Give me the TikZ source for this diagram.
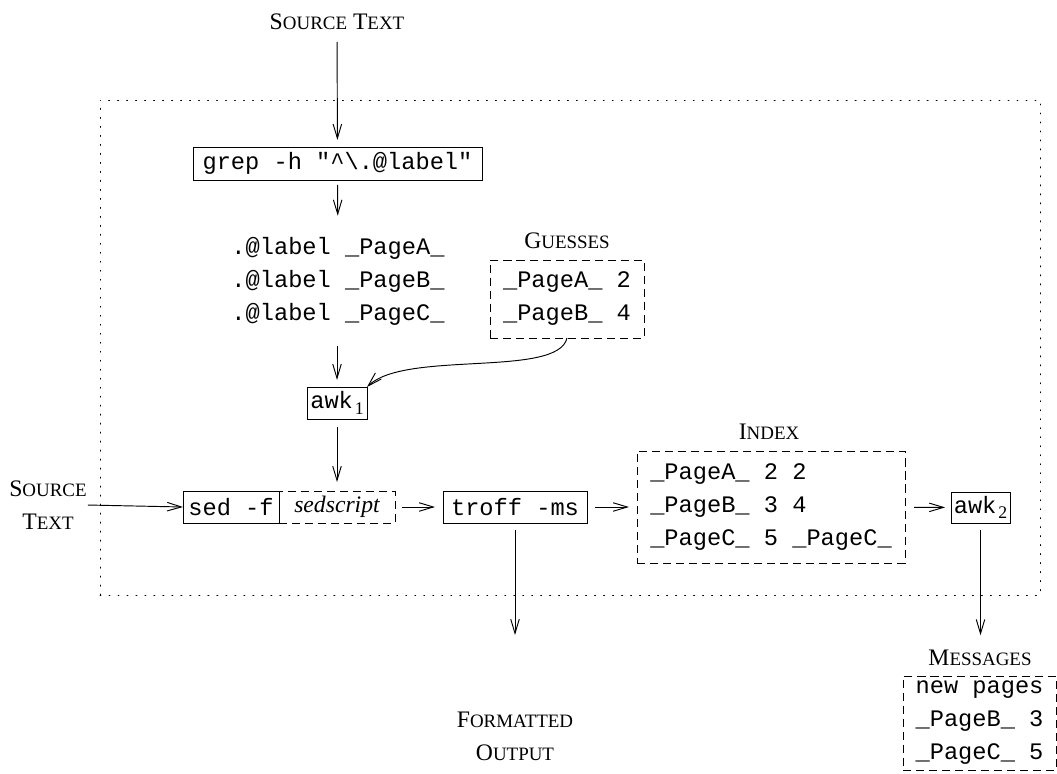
\documentclass[tikz,border=0pt]{standalone}
\usepackage{fontspec}
\setmainfont{Liberation Serif}
\setmonofont{Liberation Mono}
\usetikzlibrary{arrows.meta}
% small letters of the hand-made small caps
\newcommand\smc[1]{{\fontsize{8}{9}\selectfont #1}}
% awk with a numbered subscript
\newcommand\awksub[1]{awk\kern0.8pt\raisebox{-2.2pt}{\rmfamily\fontsize{7.5}{8}\selectfont #1}}
\begin{document}
\begin{tikzpicture}[
  x=0.4225pt, y=-0.4225pt,
  line width=0.4pt,
  every node/.style={inner sep=0pt, outer sep=0pt},
  mono/.style={font=\ttfamily\fontsize{10}{13.94}\selectfont},
  lbl/.style={font=\rmfamily\fontsize{10}{13.94}\selectfont, align=center},
  solidbox/.style 2 args={draw, minimum width=#1*0.4225pt, minimum height=#2*0.4225pt},
  dashbox/.style 2 args={draw, dash pattern=on 3.4pt off 2.1pt,
    minimum width=#1*0.4225pt, minimum height=#2*0.4225pt},
  arr/.style={-{Straight Barb[length=6pt,width=3.6pt]}},
]
\useasboundingbox (0,0) rectangle (1057,773);

% dotted frame round the pipeline
\node[draw, dash pattern=on 0.4pt off 3.4pt, line cap=round,
      minimum width=940*0.4225pt, minimum height=495*0.4225pt] (frame) at (570,347.5) {};

% labels
\node[lbl] (srcTop) at (337,22) {S\smc{OURCE} T\smc{EXT}};
\node[lbl] (guessLbl) at (567,241) {G\smc{UESSES}};
\node[lbl] (srcLeft) at (48,505) {S\smc{OURCE}\\T\smc{EXT}};
\node[lbl] (idxLbl) at (769,432) {I\smc{NDEX}};
\node[lbl] (msgLbl) at (980,658) {M\smc{ESSAGES}};
\node[lbl] (fmt) at (515,736) {F\smc{ORMATTED}\\O\smc{UTPUT}};

% commands and data
\node[mono, solidbox={289}{33}] (grep) at (337.5,163.5)
  {grep -h "\textasciicircum\textbackslash.@label"};
\node[mono, align=center] (labels) at (338,281)
  {.@label \_PageA\_\\.@label \_PageB\_\\.@label \_PageC\_};
\node[mono, dashbox={154}{78}, align=left] (guess) at (567,299)
  {\_PageA\_ 2\\\_PageB\_ 4};
\node[mono, solidbox={60}{32}] (awk1) at (337,403) {\awksub{1}};
\node[mono, dashbox={116}{32}] (script) at (337,507) {\rmfamily\itshape sedscript};
\node[mono, solidbox={96}{32}] (sed) at (231,507) {sed -f};
\node[mono, solidbox={144}{32}] (troff) at (515,507) {troff -ms};
\node[mono, dashbox={268}{112}, align=left] (index) at (771,507)
  {\_PageA\_ 2 2\\\_PageB\_ 3 4\\\_PageC\_ 5 \_PageC\_};
\node[mono, solidbox={59}{31}] (awk2) at (980.5,507.5) {\awksub{2}};
\node[mono, dashbox={153}{94}, align=left] (msg) at (979.5,723)
  {new pages\\\_PageB\_ 3\\\_PageC\_ 5};
\coordinate (outEnd) at (515,635);

% connectors
\draw[arr, shorten <=5pt, shorten >=3pt] (srcTop) -- (grep);
\draw[arr, shorten <=2.1pt, shorten >=9pt] (grep) -- (labels);
\draw[arr, shorten <=9pt, shorten >=3pt] (labels.south -| awk1.north) -- (awk1.north);
\draw[arr] (guess.south) .. controls (558,378) and (405,350) .. (awk1.north east);
\draw[arr, shorten <=3.4pt, shorten >=3.8pt] (awk1) -- (script);
\draw[arr, shorten <=0.5pt] (srcLeft.east) -- (sed.west);
\draw[arr, shorten <=3pt, shorten >=3.4pt] (script) -- (troff);
\draw[arr, shorten <=3.4pt, shorten >=3.4pt] (troff) -- (index);
\draw[arr, shorten <=3.8pt, shorten >=2.5pt] (index) -- (awk2);
\draw[arr, shorten <=3pt] (troff.south) -- (outEnd);
\draw[arr, shorten <=3pt, shorten >=6.3pt] (awk2) -- (awk2 |- msgLbl.north);
\end{tikzpicture}
\end{document}
